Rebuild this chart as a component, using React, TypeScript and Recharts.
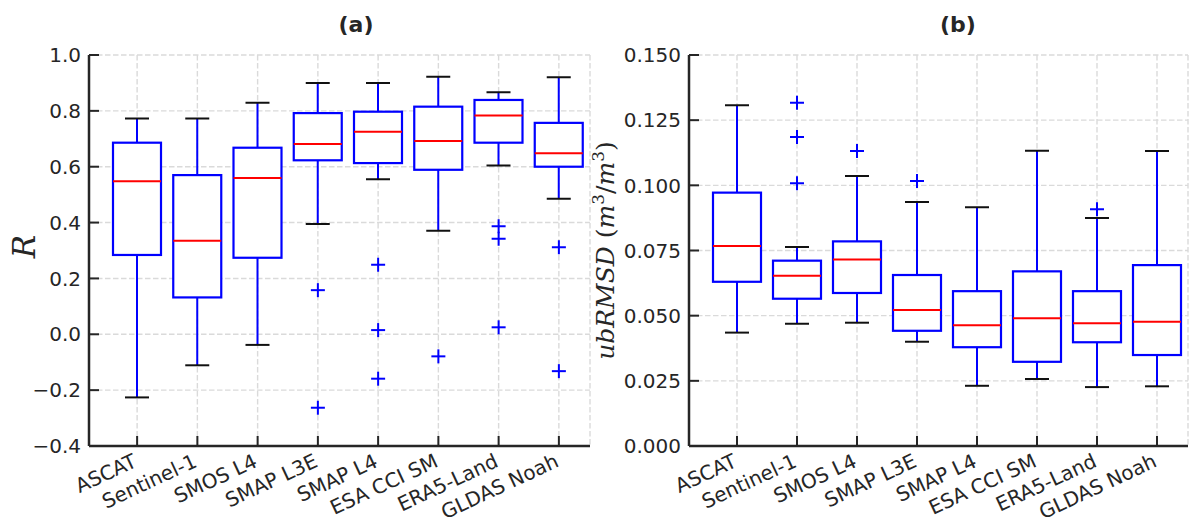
import { ComposedChart, Bar, Scatter, XAxis, YAxis, CartesianGrid } from 'recharts';

const NAMES = ['ASCAT', 'Sentinel-1', 'SMOS L4', 'SMAP L3E', 'SMAP L4', 'ESA CCI SM', 'ERA5-Land', 'GLDAS Noah'];

// (a) correlation R
const R_MIN = [-0.226, -0.111, -0.038, 0.395, 0.555, 0.371, 0.604, 0.485];
const R_Q1 = [0.284, 0.132, 0.274, 0.623, 0.613, 0.589, 0.686, 0.6];
const R_MED = [0.548, 0.335, 0.56, 0.681, 0.725, 0.692, 0.783, 0.648];
const R_Q3 = [0.686, 0.57, 0.668, 0.792, 0.797, 0.815, 0.839, 0.757];
const R_MAX = [0.773, 0.773, 0.829, 0.9, 0.9, 0.922, 0.867, 0.92];
const R_OUT = [[], [], [], [0.158, -0.263], [0.249, 0.015, -0.159], [-0.079], [0.387, 0.342, 0.025], [0.312, -0.132]];
const R_TICKS = [-0.4, -0.2, 0, 0.2, 0.4, 0.6, 0.8, 1.0];

// (b) ubRMSD
const U_MIN = [0.0435, 0.0469, 0.0473, 0.04, 0.0231, 0.0257, 0.0226, 0.0229];
const U_Q1 = [0.063, 0.0565, 0.0587, 0.0442, 0.0379, 0.0323, 0.0398, 0.0349];
const U_MED = [0.0767, 0.0653, 0.0715, 0.0522, 0.0463, 0.049, 0.0471, 0.0477];
const U_Q3 = [0.0972, 0.0711, 0.0785, 0.0656, 0.0594, 0.067, 0.0594, 0.0694];
const U_MAX = [0.1307, 0.0763, 0.1036, 0.0936, 0.0916, 0.1133, 0.0875, 0.1132];
const U_OUT = [[], [0.1317, 0.1185, 0.1008], [0.1132], [0.1017], [], [], [0.0908], []];
const U_TICKS = [0, 0.025, 0.05, 0.075, 0.1, 0.125, 0.15];

const INK = '#262626';
const FONT = '"DejaVu Sans", sans-serif';
const MATH = '"DejaVu Serif", serif';

function buildRows(mn: number[], q1: number[], med: number[], q3: number[], mx: number[], out: number[][]) {
  return NAMES.map((name, i) => {
    const row: any = { name, range: [mn[i], mx[i]], min: mn[i], q1: q1[i], med: med[i], q3: q3[i], max: mx[i] };
    out[i].forEach((v, k) => (row['o' + k] = v));
    return row;
  });
}

const rRows = buildRows(R_MIN, R_Q1, R_MED, R_Q3, R_MAX, R_OUT);
const uRows = buildRows(U_MIN, U_Q1, U_MED, U_Q3, U_MAX, U_OUT);

// whisker range bar -> full box; inner values placed on the same linear scale
function BoxShape(props: any) {
  const { x, y, width, height } = props;
  const p = props.payload ?? props;
  const top = Math.min(y, y + height);
  const h = Math.abs(height);
  const py = (v: number) => top + (h * (p.max - v)) / (p.max - p.min);
  const cx = x + width / 2;
  const cap = 12;
  return (
    <g>
      <line x1={cx} x2={cx} y1={py(p.max)} y2={py(p.q3)} stroke="#0000ff" strokeWidth={2} />
      <line x1={cx} x2={cx} y1={py(p.q1)} y2={py(p.min)} stroke="#0000ff" strokeWidth={2} />
      <line x1={cx - cap} x2={cx + cap} y1={py(p.max)} y2={py(p.max)} stroke="#111" strokeWidth={2} />
      <line x1={cx - cap} x2={cx + cap} y1={py(p.min)} y2={py(p.min)} stroke="#111" strokeWidth={2} />
      <rect x={x} y={py(p.q3)} width={width} height={py(p.q1) - py(p.q3)} fill="#fff" stroke="#0000ff" strokeWidth={2.2} />
      <line x1={x} x2={x + width} y1={py(p.med)} y2={py(p.med)} stroke="#ff0000" strokeWidth={2} />
    </g>
  );
}

function Plus(props: any) {
  const { cx, cy } = props;
  if (cx == null || cy == null || isNaN(cx) || isNaN(cy)) return <g />;
  return (
    <g>
      <line x1={cx - 7} x2={cx + 7} y1={cy} y2={cy} stroke="#0000ff" strokeWidth={2} />
      <line x1={cx} x2={cx} y1={cy - 7} y2={cy + 7} stroke="#0000ff" strokeWidth={2} />
    </g>
  );
}

function XTick(props: any) {
  const { x, y, payload } = props;
  const ax = x + 1;
  const ay = y + 20;
  return (
    <g>
      <line x1={x} x2={x} y1={y} y2={y - 10} stroke={INK} strokeWidth={2} />
      <text x={ax} y={ay} textAnchor="end" fill={INK} fontSize={20} fontFamily={FONT} transform={`rotate(-25 ${ax} ${ay})`}>
        {payload.value}
      </text>
    </g>
  );
}

function YTick(props: any) {
  const { x, y, payload, fmt } = props;
  return (
    <g>
      <line x1={x} x2={x + 10} y1={y} y2={y} stroke={INK} strokeWidth={2} />
      <text x={x - 8} y={y} dy="0.36em" textAnchor="end" fill={INK} fontSize={20} fontFamily={FONT}>
        {fmt(payload.value)}
      </text>
    </g>
  );
}

const fmtR = (v: number) => v.toFixed(1).replace('-', '\u2212');
const fmtU = (v: number) => v.toFixed(3);

function Panel({ rows, ticks, fmt, yLabel, labelX, width, yAxisWidth, right }: any) {
  const lo = ticks[0];
  const hi = ticks[ticks.length - 1];
  return (
    <ComposedChart width={width} height={527} data={rows} margin={{ top: 55, right, bottom: 0, left: 0 }}>
      <CartesianGrid stroke="#dadada" strokeWidth={1.4} strokeDasharray="5.5 2.5" />
      <XAxis
        dataKey="name"
        interval={0}
        height={81}
        tickSize={0}
        tickMargin={0}
        padding={{ left: 18, right: 1 }}
        axisLine={{ stroke: INK, strokeWidth: 2.5 }}
        tick={(p: any) => <XTick {...p} />}
      />
      <XAxis xAxisId="top" dataKey="name" orientation="top" height={0} tick={false} tickLine={false} axisLine={{ stroke: INK, strokeWidth: 2.5 }} />
      <YAxis
        type="number"
        domain={[lo, hi]}
        ticks={ticks}
        interval={0}
        allowDataOverflow
        width={yAxisWidth}
        tickSize={0}
        tickMargin={0}
        axisLine={{ stroke: INK, strokeWidth: 2.5 }}
        tick={(p: any) => <YTick {...p} fmt={fmt} />}
        label={{ content: (lp: any) => yLabel(lp.viewBox, labelX) }}
      />
      <YAxis yAxisId="right" orientation="right" type="number" domain={[0, 1]} width={0} tick={false} tickLine={false} axisLine={{ stroke: INK, strokeWidth: 2.5 }} />
      <Bar dataKey="range" barSize={48} isAnimationActive={false} shape={(p: any) => <BoxShape {...p} />} />
      {[0, 1, 2].map((k) => (
        <Scatter key={k} dataKey={'o' + k} isAnimationActive={false} shape={(p: any) => <Plus {...p} />} />
      ))}
    </ComposedChart>
  );
}

const rLabel = (vb: any, lx: number) => {
  const cy = vb.y + vb.height / 2 - 4;
  return (
    <text x={lx} y={cy} textAnchor="middle" fontSize={31} fontStyle="italic" fontFamily={MATH} fill={INK} transform={`rotate(-90 ${lx} ${cy})`}>
      R
    </text>
  );
};

const uLabel = (vb: any, lx: number) => {
  const cy = vb.y + vb.height / 2;
  return (
    <text x={lx} y={cy} textAnchor="middle" fontSize={25} fontFamily={MATH} fill={INK} transform={`rotate(-90 ${lx} ${cy})`}>
      <tspan fontStyle="italic">ubRMSD</tspan>
      <tspan> (</tspan>
      <tspan fontStyle="italic">m</tspan>
      <tspan dy={-10} fontSize={17}>3</tspan>
      <tspan dy={10}>/</tspan>
      <tspan fontStyle="italic">m</tspan>
      <tspan dy={-10} fontSize={17}>3</tspan>
      <tspan dy={10}>)</tspan>
    </text>
  );
};

const titleStyle = (cx: number): any => ({
  position: 'absolute',
  top: 10,
  left: cx - 50,
  width: 100,
  textAlign: 'center',
  fontFamily: FONT,
  fontWeight: 'bold',
  fontSize: 22,
  color: INK,
  lineHeight: '30px',
});

export default function App() {
  return (
    <div style={{ position: 'absolute', left: 0, top: 0, width: 1189, height: 527, background: '#fff', overflow: 'hidden' }}>
      <div style={{ position: 'absolute', left: 0, top: 0 }}>
        <Panel rows={rRows} ticks={R_TICKS} fmt={fmtR} yLabel={rLabel} labelX={35} width={600} yAxisWidth={89} right={10} />
      </div>
      <div style={{ position: 'absolute', left: 560, top: 0 }}>
        <Panel rows={uRows} ticks={U_TICKS} fmt={fmtU} yLabel={uLabel} labelX={54} width={629} yAxisWidth={129} right={1} />
      </div>
      <div style={titleStyle(356)}>(a)</div>
      <div style={titleStyle(958)}>(b)</div>
    </div>
  );
}
